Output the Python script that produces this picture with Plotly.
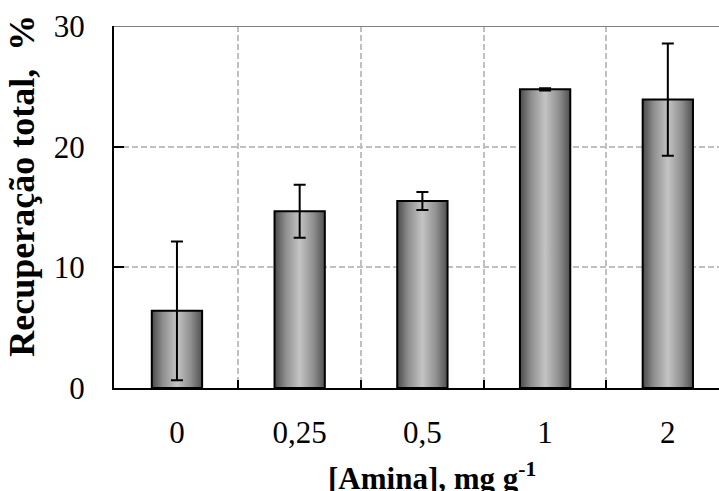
import plotly.graph_objects as go

# Amine dosage categories and total recovery (%) with standard deviations
categories = ["0", "0,25", "0,5", "1", "2"]
recovery = [6.4, 14.65, 15.5, 24.75, 23.9]
recovery_sd = [5.75, 2.2, 0.75, 0.1, 4.65]

BAR_WIDTH = 0.41
BAR_SCALE = [[0.0, "#4a4a4a"], [0.22, "#8e8e8e"], [0.5, "#c4c4c4"],
             [0.78, "#8e8e8e"], [1.0, "#4f4f4f"]]
SERIF = "Liberation Serif, Times New Roman, serif"

fig = go.Figure()

# Cylinder-shaded bars: one filled polygon per category with a horizontal gradient
for i, v in enumerate(recovery):
    x0, x1 = i - BAR_WIDTH / 2, i + BAR_WIDTH / 2
    fig.add_trace(go.Scatter(
        x=[x0, x0, x1, x1, x0],
        y=[0, v, v, 0, 0],
        mode="lines",
        fill="toself",
        fillgradient=dict(type="horizontal", colorscale=BAR_SCALE),
        line=dict(color="black", width=2),
        hoverinfo="skip",
        showlegend=False,
    ))

# Error bars
fig.add_trace(go.Scatter(
    x=list(range(len(categories))),
    y=recovery,
    mode="markers",
    marker=dict(size=1, color="rgba(0,0,0,0)"),
    error_y=dict(type="data", array=recovery_sd, visible=True,
                 color="black", thickness=2, width=6),
    showlegend=False,
))

fig.update_xaxes(
    range=[-0.513, 4.417],
    tickmode="array",
    tickvals=list(range(len(categories))),
    ticktext=categories,
    ticks="",
    showgrid=False,
    zeroline=False,
    showline=True, linecolor="black", linewidth=2,
    tickfont=dict(family=SERIF, size=31, color="black"),
    ticklabelstandoff=16,
    minor=dict(tickvals=[0.5, 1.5, 2.5, 3.5], ticks="inside", ticklen=8,
               tickwidth=1.5, tickcolor="black",
               showgrid=True, gridcolor="#c0c0c0", gridwidth=1.5,
               griddash="6px,3px"),
)

fig.update_yaxes(
    range=[0, 30],
    tickvals=[0, 10, 20, 30],
    ticks="inside", ticklen=10, tickwidth=2, tickcolor="black",
    showgrid=True, gridcolor="#c0c0c0", gridwidth=1.5, griddash="6px,3px",
    zeroline=False,
    showline=True, linecolor="black", linewidth=2,
    tickfont=dict(family=SERIF, size=31, color="black"),
    ticklabelstandoff=21,
)

# Gray top border of the plot area
fig.add_shape(type="line", xref="paper", yref="y", x0=0, x1=1, y0=30, y1=30,
              line=dict(color="#808080", width=2), layer="above")

# Axis titles
fig.add_annotation(text="Recuperação total,  %", textangle=-90,
                   xref="paper", yref="paper", x=-0.152, y=0.559,
                   xanchor="center", yanchor="middle", showarrow=False,
                   font=dict(family=SERIF, size=36, color="black", weight="bold"))
fig.add_annotation(text="[Amina], mg g<sup>-1</sup>",
                   xref="paper", yref="paper", x=0.526, y=-0.245,
                   xanchor="center", yanchor="middle", showarrow=False,
                   font=dict(family=SERIF, size=31, color="black", weight="bold"))

fig.update_layout(
    width=719, height=491,
    margin=dict(l=114, r=0, t=26, b=103),
    plot_bgcolor="white", paper_bgcolor="white",
    showlegend=False,
)

fig.write_html("out.html")
